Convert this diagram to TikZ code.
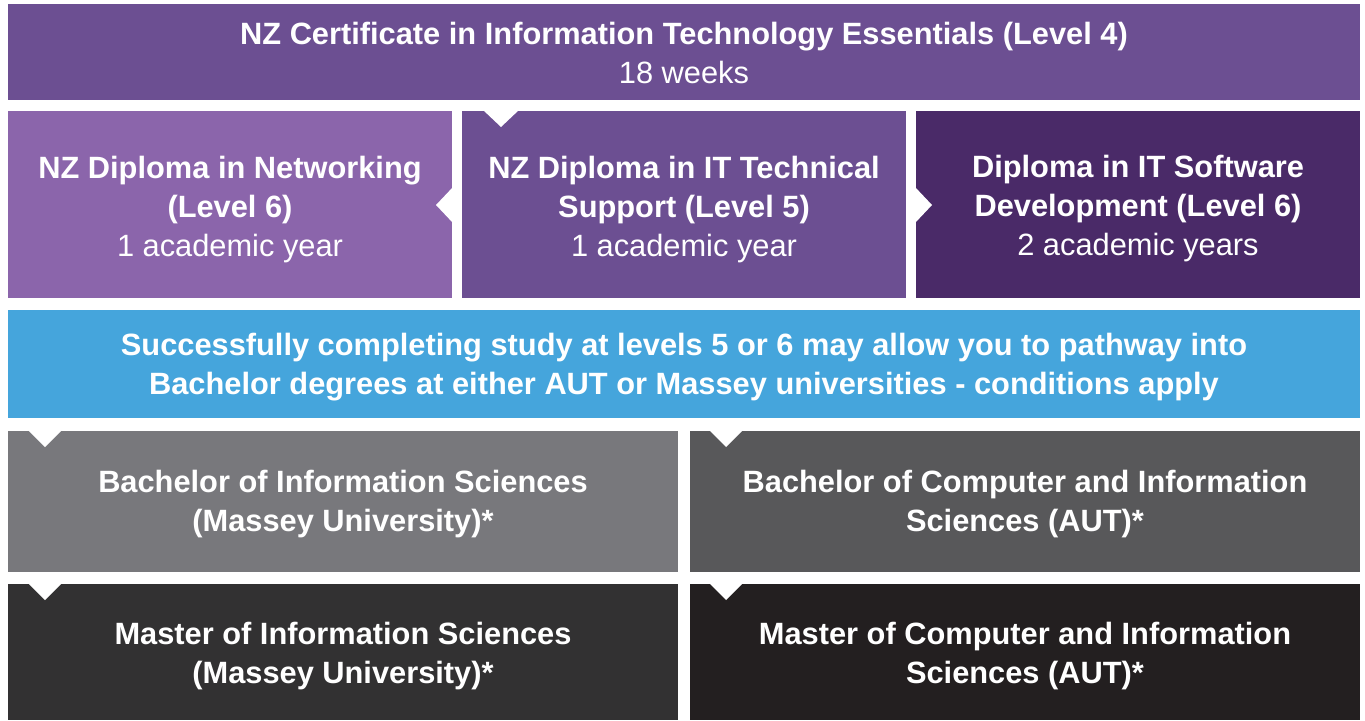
\documentclass[tikz,border=0pt]{standalone}
\usepackage{fontspec}
\setmainfont{Liberation Sans}
\definecolor{certc}{HTML}{6C4F92}
\definecolor{netc}{HTML}{8B65AB}
\definecolor{techc}{HTML}{6C4F92}
\definecolor{softc}{HTML}{4A2A68}
\definecolor{bluec}{HTML}{45A5DC}
\definecolor{bisc}{HTML}{78787C}
\definecolor{bcisc}{HTML}{58585A}
\definecolor{misc}{HTML}{323132}
\definecolor{mcisc}{HTML}{231F20}
\begin{document}
\begin{tikzpicture}[x=1pt,y=-1pt,
  box/.style={inner sep=0pt, draw=none},
  txt/.style={inner sep=0pt, text=white, align=center,
    font=\bfseries\fontsize{30.8}{39}\selectfont},
  notch/.style={fill=white}]
\useasboundingbox[fill=white] (0,0) rectangle (1365,720);
% boxes
\node[box, fill=certc, minimum width=1352pt, minimum height=96pt] (cert) at (684,52) {};
\node[box, fill=netc, minimum width=444pt, minimum height=187pt] (net) at (230,204.5) {};
\node[box, fill=techc, minimum width=444pt, minimum height=187pt] (tech) at (684,204.5) {};
\node[box, fill=softc, minimum width=444pt, minimum height=187pt] (soft) at (1138,204.5) {};
\node[box, fill=bluec, minimum width=1352pt, minimum height=108pt] (path) at (684,364) {};
\node[box, fill=bisc, minimum width=670pt, minimum height=141pt] (bis) at (343,501.5) {};
\node[box, fill=bcisc, minimum width=670pt, minimum height=141pt] (bcis) at (1025,501.5) {};
\node[box, fill=misc, minimum width=670pt, minimum height=136pt] (mis) at (343,652) {};
\node[box, fill=mcisc, minimum width=670pt, minimum height=136pt] (mcis) at (1025,652) {};
% texts
\node[txt] (certt) at ([yshift=-0.5pt]cert.center)
  {NZ Certificate in Information Technology Essentials (Level 4)\\{\mdseries 18 weeks}};
\node[txt] (nett) at ([yshift=-5.5pt]net.center)
  {NZ Diploma in Networking\\(Level 6)\\{\mdseries 1 academic year}};
\node[txt] (techt) at ([yshift=-5.5pt]tech.center)
  {NZ Diploma in IT Technical\\Support (Level 5)\\{\mdseries 1 academic year}};
\node[txt] (softt) at ([yshift=-4pt]soft.center)
  {Diploma in IT Software\\Development (Level 6)\\{\mdseries 2 academic years}};
\node[txt] (patht) at ([yshift=-3pt]path.center)
  {Successfully completing study at levels 5 or 6 may allow you to pathway into\\Bachelor degrees at either AUT or Massey universities - conditions apply};
\node[txt] (bist) at ([yshift=-3pt]bis.center)
  {Bachelor of Information Sciences\\(Massey University)*};
\node[txt] (bcist) at ([yshift=-3pt]bcis.center)
  {Bachelor of Computer and Information\\Sciences (AUT)*};
\node[txt] (mist) at ([yshift=-4.5pt]mis.center)
  {Master of Information Sciences\\(Massey University)*};
\node[txt] (mcist) at ([yshift=-4.5pt]mcis.center)
  {Master of Computer and Information\\Sciences (AUT)*};
% notches
\fill[notch] (483,110) -- (519,110) -- (501,127) -- cycle;
\fill[notch] (453,187) -- (453,223) -- (436,205) -- cycle;
\fill[notch] (915,187) -- (915,223) -- (932,205) -- cycle;
\fill[notch] (28,430) -- (62,430) -- (45,447) -- cycle;
\fill[notch] (709,430) -- (743,430) -- (726,447) -- cycle;
\fill[notch] (28,583) -- (62,583) -- (45,600) -- cycle;
\fill[notch] (709,583) -- (743,583) -- (726,600) -- cycle;
\end{tikzpicture}
\end{document}
